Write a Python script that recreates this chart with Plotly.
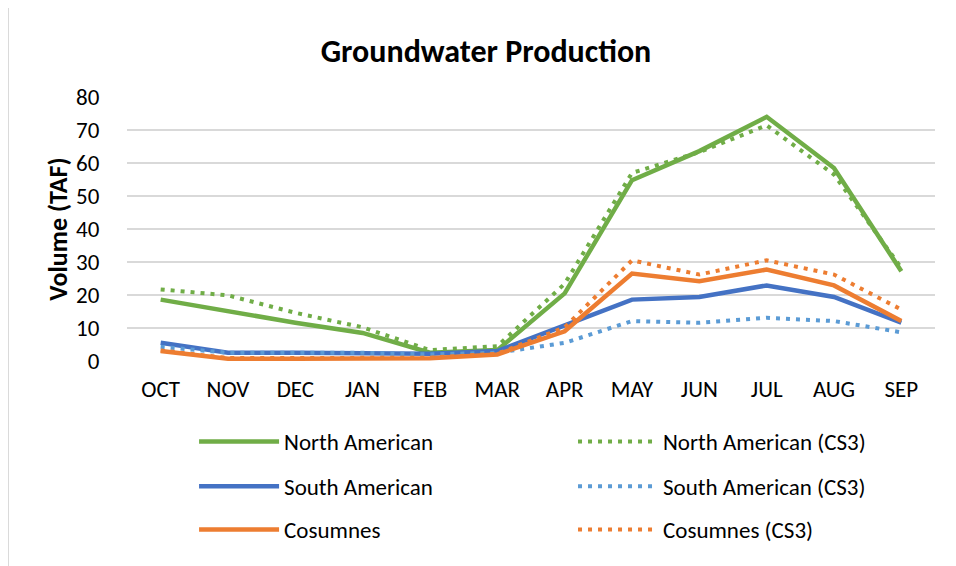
import plotly.graph_objects as go

# 月ラベル
months = ["OCT", "NOV", "DEC", "JAN", "FEB", "MAR", "APR", "MAY", "JUN", "JUL", "AUG", "SEP"]

# 系列データ (TAF)
north_american = [18.6, 15.1, 11.6, 8.5, 2.5, 3.3, 20.5, 54.8, 63.6, 74.0, 58.5, 27.2]
north_american_cs3 = [21.7, 19.9, 14.6, 10.2, 3.3, 4.5, 23.4, 57.0, 63.3, 71.4, 56.5, 28.2]
south_american = [5.5, 2.5, 2.5, 2.3, 2.2, 3.0, 10.8, 18.6, 19.4, 22.9, 19.4, 11.6]
south_american_cs3 = [4.3, 2.5, 2.5, 2.5, 2.0, 2.5, 5.5, 12.1, 11.6, 13.1, 12.1, 8.7]
cosumnes = [3.0, 0.7, 0.7, 0.7, 0.8, 2.0, 9.0, 26.5, 24.2, 27.7, 22.9, 12.1]
cosumnes_cs3 = [3.2, 0.9, 0.9, 0.9, 1.0, 2.2, 10.2, 30.5, 26.2, 30.5, 26.2, 15.6]

FONT = "Carlito, Lato, sans-serif"
GREEN = "#70AD47"
BLUE = "#4472C4"
LBLUE = "#5B9BD5"
ORANGE = "#ED7D31"
DOT = "4px,6px"

# (名前, 値, 色, 線種, 凡例x, 凡例y)
series = [
    ("North American", north_american, GREEN, "solid", 0.083, -0.305),
    ("North American (CS3)", north_american_cs3, GREEN, DOT, 0.552, -0.305),
    ("South American", south_american, BLUE, "solid", 0.083, -0.475),
    ("South American (CS3)", south_american_cs3, LBLUE, DOT, 0.552, -0.475),
    ("Cosumnes", cosumnes, ORANGE, "solid", 0.083, -0.638),
    ("Cosumnes (CS3)", cosumnes_cs3, ORANGE, DOT, 0.552, -0.638),
]

fig = go.Figure()
legends = {}
for i, (name, vals, color, dash, lx, ly) in enumerate(series, start=1):
    key = "legend" if i == 1 else f"legend{i}"
    fig.add_trace(go.Scatter(
        x=months, y=vals, name=name, mode="lines",
        line=dict(color=color, width=4.5 if dash == "solid" else 4, dash=dash),
        legend=key,
    ))
    legends[key] = dict(
        orientation="h", x=lx, y=ly, xanchor="left", yanchor="middle",
        itemwidth=80,
        font=dict(family=FONT, size=23, color="#000000"),
        bgcolor="rgba(0,0,0,0)",
    )

fig.update_layout(
    width=956, height=566,
    margin=dict(l=119, r=29, t=89, b=213),
    paper_bgcolor="#ffffff", plot_bgcolor="#ffffff",
    font=dict(family=FONT, color="#000000"),
    title=dict(text="<b>Groundwater Production</b>", x=0.50, xanchor="center",
               y=0.925, yanchor="middle", font=dict(size=32, family=FONT)),
    xaxis=dict(showgrid=False, showline=False, zeroline=False,
               ticks="outside", ticklen=7, tickcolor="rgba(0,0,0,0)",
               tickfont=dict(size=23, family=FONT), range=[-0.5, 11.5]),
    yaxis=dict(range=[0, 80], dtick=10, showgrid=True, gridcolor="#d9d9d9", gridwidth=1.5,
               zeroline=False, showline=False,
               ticks="outside", ticklen=22, tickcolor="rgba(0,0,0,0)",
               tickfont=dict(size=23, family=FONT),
               title=dict(text="<b>Volume (TAF)</b>", font=dict(size=26, family=FONT), standoff=0)),
    showlegend=True,
    **legends,
)

# 外枠
fig.add_shape(type="rect", xref="paper", yref="paper",
              x0=-0.148, x1=1.1, y0=-0.8, y1=1.345,
              line=dict(color="#a6a6a6", width=2), layer="below")

fig.write_html("out.html")
